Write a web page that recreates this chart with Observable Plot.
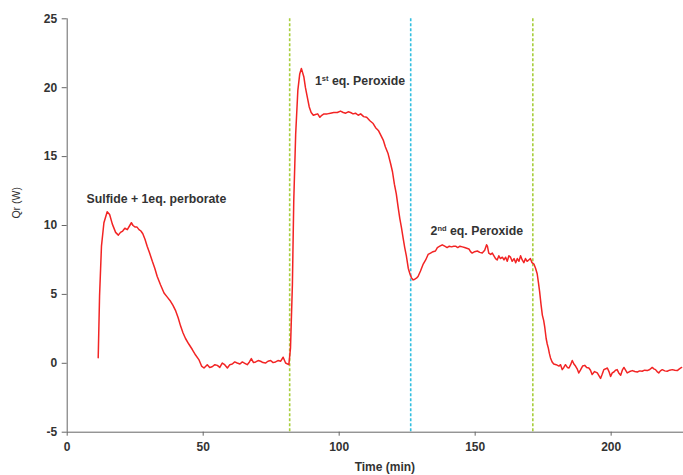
<!DOCTYPE html>
<html>
<head>
<meta charset="utf-8">
<script src="https://cdn.jsdelivr.net/npm/d3@7"></script>
<script src="https://cdn.jsdelivr.net/npm/@observablehq/plot@0.6"></script>
<style>
  html, body { margin: 0; padding: 0; background: #fff; }
  #chart { width: 683px; height: 475px; overflow: hidden; }
</style>
</head>
<body>
<div id="chart"></div>
<script>
// ---- data ----
const timeMin = [
  11.4,11.9,12.6,13.5,14.7,15.6,16.6,17.8,18.8,19.6,20.4,21.2,22.1,23.0,23.6,24.2,24.9,25.6,26.4,27.1,
  27.8,28.6,29.4,30.3,31.3,32.2,33.1,34.3,35.6,36.8,38.0,38.9,39.9,40.8,41.7,42.6,43.5,44.7,46.0,47.2,
  48.4,49.4,50.3,51.5,52.4,53.3,54.3,55.2,56.1,57.0,57.9,58.9,59.8,60.7,61.6,62.5,63.5,64.4,65.3,66.2,
  67.0,67.7,68.5,69.3,70.2,71.1,72.0,72.9,73.8,74.8,75.7,76.6,77.5,78.5,79.4,80.3,81.5,
  82.1,82.8,83.3,84.0,84.8,85.5,86.1,87.0,87.6,88.3,89.0,89.7,90.5,91.3,92.1,92.9,93.6,94.4,95.6,96.8,
  98.0,99.3,100.5,101.5,102.4,103.3,104.2,105.1,106.0,107.0,107.9,109.0,110.1,111.3,112.5,113.4,114.4,
  115.2,116.2,117.0,118.0,118.9,119.6,120.3,121.0,121.7,122.3,122.9,123.5,124.1,124.7,125.4,126.0,126.6,
  127.2,127.8,128.5,129.0,129.9,130.9,131.8,132.7,133.6,134.5,135.4,136.1,137.0,137.9,138.8,139.7,140.5,
  141.3,142.1,142.8,143.6,144.4,145.3,146.1,146.9,147.7,148.3,148.9,149.8,150.8,151.7,152.6,153.5,154.2,
  154.5,155.0,155.7,156.3,156.9,157.5,158.1,158.7,159.3,160.0,160.6,161.2,161.8,162.4,163.0,163.6,164.3,
  164.9,165.5,166.1,166.7,167.3,167.9,168.5,169.1,169.7,170.3,170.9,171.6,
  172.2,172.8,173.3,173.7,174.2,174.7,175.2,175.6,176.1,176.5,176.9,177.3,177.7,178.3,178.9,179.8,180.8,
  181.4,182.0,182.6,183.2,183.9,184.5,185.1,185.7,186.3,186.9,187.5,188.1,188.7,189.5,190.3,191.0,191.8,
  192.4,193.0,193.9,194.9,195.5,196.1,196.7,197.3,198.0,198.6,199.2,199.8,200.4,201.0,201.6,202.2,202.8,
  203.5,204.1,204.7,205.3,205.9,206.8,207.8,208.7,209.6,210.5,211.4,212.3,213.3,214.2,215.1,215.7,216.3,
  216.9,217.5,218.1,218.8,219.7,220.6,221.5,222.5,223.4,224.3,225.1,225.9
];
const qrW = [
  0.4,4.9,8.5,10.2,11.0,10.8,10.1,9.5,9.3,9.5,9.6,9.8,9.7,10.0,10.2,10.0,9.9,9.9,9.7,9.6,
  9.4,9.0,8.5,8.0,7.4,6.9,6.3,5.7,5.1,4.8,4.5,4.2,3.8,3.3,2.7,2.2,1.8,1.4,1.0,0.6,
  0.27,-0.2,-0.34,-0.1,-0.3,-0.25,-0.1,-0.15,-0.3,0.02,-0.1,-0.34,-0.1,-0.05,0.1,0.02,-0.05,0.1,0.0,-0.1,
  0.1,0.34,0.05,0.1,0.2,0.15,0.05,0.02,0.15,0.2,0.05,0.1,0.2,0.15,0.44,0.02,-0.1,
  1.1,5.7,11.8,16.6,19.8,21.0,21.4,20.8,20.0,19.3,18.6,18.2,18.0,18.05,18.1,17.85,18.0,18.1,18.1,18.15,
  18.2,18.2,18.3,18.2,18.15,18.25,18.2,18.1,18.15,18.0,18.1,17.9,17.85,17.6,17.4,17.1,16.9,
  16.6,16.2,15.7,15.2,14.5,13.9,13.0,12.3,11.3,10.5,9.85,9.1,8.4,7.8,6.9,6.5,6.2,
  6.05,6.1,6.2,6.3,6.7,7.2,7.5,7.9,8.0,8.1,8.15,8.4,8.5,8.6,8.5,8.4,8.5,
  8.45,8.5,8.5,8.4,8.5,8.45,8.4,8.35,8.3,8.1,8.0,8.1,8.15,8.05,8.0,8.2,8.6,
  8.5,8.0,7.9,8.0,7.8,7.6,7.5,7.8,7.6,7.7,7.5,7.7,7.4,7.8,7.7,7.4,7.6,
  7.3,7.6,7.4,7.8,7.5,7.3,7.6,7.4,7.5,7.6,7.3,7.2,
  6.9,6.5,5.8,5.2,4.3,3.5,3.1,2.6,1.8,1.4,1.1,0.7,0.39,0.1,-0.05,-0.1,-0.2,
  -0.1,-0.46,-0.3,-0.1,-0.3,-0.34,-0.1,0.2,-0.05,-0.2,-0.4,-0.7,-0.5,-0.2,-0.15,-0.3,-0.34,
  -0.5,-0.82,-0.6,-0.7,-0.9,-1.1,-0.8,-0.46,-0.4,-0.34,-0.6,-0.95,-0.7,-0.63,-0.5,-0.46,-0.7,
  -0.87,-0.5,-0.3,-0.5,-0.7,-0.6,-0.53,-0.6,-0.63,-0.55,-0.58,-0.5,-0.53,-0.45,-0.3,-0.4,-0.46,
  -0.6,-0.7,-0.55,-0.46,-0.55,-0.58,-0.5,-0.46,-0.5,-0.53,-0.4,-0.3
];
const eventTimes = [81.8, 126.3, 171.2];
const eventColors = ["#a8cf3c", "#33bfe0", "#a8cf3c"];
const xTicks = [0, 50, 100, 150, 200];
const yTicks = [-5, 0, 5, 10, 15, 20, 25];
const annoText = ["Sulfide + 1eq. perborate", "1st eq. Peroxide", "2nd eq. Peroxide"];
const annoX = [7.1, 91.1, 133.6];
const annoY = [11.9, 20.45, 9.6];
const xLabel = "Time (min)";
const yLabel = "Qr (W)";

// ---- build tables ----
const series = timeMin.map((t, i) => ({t, q: qrW[i]}));
const events = eventTimes.map((t, i) => ({t, c: eventColors[i]}));
const annos = annoText.map((s, i) => ({s, x: annoX[i], y: annoY[i]}));

const font = "'Liberation Sans', Arial, sans-serif";

const chart = Plot.plot({
  width: 683,
  height: 475,
  marginLeft: 66.7,
  marginRight: 0,
  marginTop: 18.3,
  marginBottom: 43.3,
  style: {fontFamily: font, fontSize: "12px", color: "#333", background: "#fff"},
  x: {domain: [0, 226.6]},
  y: {domain: [-5, 25]},
  marks: [
    Plot.ruleX(events, {x: "t", stroke: "c", strokeWidth: 1.6, strokeDasharray: "3,2"}),
    Plot.ruleX([0], {stroke: "#666", strokeWidth: 1}),
    Plot.ruleY([-5], {stroke: "#666", strokeWidth: 1}),
    Plot.axisY({ticks: yTicks, tickFormat: d => String(d), tickSize: 5, tickPadding: 5, label: null, fontWeight: "bold", fontSize: 12, stroke: "#666", fill: "#333"}),
    Plot.axisX({ticks: xTicks, tickFormat: d => String(d), tickSize: 4, tickPadding: 6, label: null, fontWeight: "bold", fontSize: 12, stroke: "#666", fill: "#333"}),
    Plot.line(series, {x: "t", y: "q", stroke: "#f22424", strokeWidth: 1.5, curve: "linear"}),
    Plot.text(annos, {x: "x", y: "y", text: "s", textAnchor: "start", fontWeight: "bold", fontSize: 12.3, fill: "#333"}),
    Plot.text([xLabel], {frameAnchor: "bottom", x: 116.8, dy: 39, text: d => d, fontSize: 12, fontWeight: "bold", fill: "#333"}),
    Plot.text([yLabel], {frameAnchor: "left", y: 10.5, dx: -50.7, rotate: -90, text: d => d, fontSize: 10.5, fill: "#333"})
  ]
});

// superscripts for ordinal suffixes
d3.select(chart).selectAll("text").each(function() {
  const el = this;
  const txt = el.textContent;
  const m = /^(\d)(st|nd|rd|th)( .*)$/.exec(txt);
  if (!m) return;
  while (el.firstChild) el.removeChild(el.firstChild);
  const ns = "http://www.w3.org/2000/svg";
  const a = document.createElementNS(ns, "tspan"); a.textContent = m[1];
  const b = document.createElementNS(ns, "tspan"); b.textContent = m[2];
  b.setAttribute("font-size", "7.5"); b.setAttribute("dy", "-4");
  const c = document.createElementNS(ns, "tspan"); c.textContent = m[3];
  c.setAttribute("dy", "4");
  el.appendChild(a); el.appendChild(b); el.appendChild(c);
});

document.getElementById("chart").appendChild(chart);
</script>
</body>
</html>
